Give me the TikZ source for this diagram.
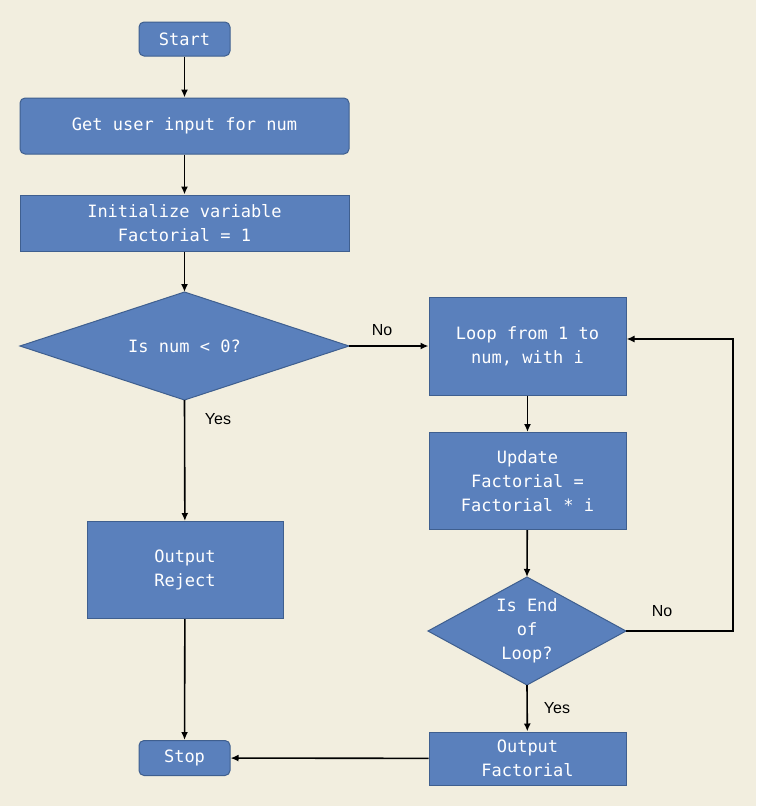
\documentclass[tikz,border=0pt]{standalone}
\usepackage{fontspec}
\setmainfont{Liberation Sans}
\newfontfamily\monof{DejaVu Sans Mono}
\usetikzlibrary{shapes.geometric,arrows.meta}
\definecolor{bg}{HTML}{F2EEDF}
\definecolor{boxf}{HTML}{5A80BC}
\definecolor{boxd}{HTML}{3F5F8F}
\begin{document}
\begin{tikzpicture}[x=1pt,y=-1pt,
  base/.style={draw=boxd,line width=1pt,fill=boxf,text=white,font=\monof\fontsize{17}{24}\selectfont,align=center,inner sep=0pt},
  box/.style={base,rectangle},
  rbox/.style={base,rectangle,rounded corners=5pt},
  dia/.style={base,diamond,aspect=3},
  arr/.style={-{Latex[length=8pt,width=7pt]},line width=1.6pt},
  lab/.style={font=\fontsize{16}{18}\selectfont}]
\fill[bg] (0,0) rectangle (756,806);
\useasboundingbox (0,0) rectangle (756,806);
\node[rbox,minimum width=91pt,minimum height=34pt] (start) at (184.5,39) {Start};
\node[rbox,minimum width=329pt,minimum height=56pt] (input) at (184.5,126) {Get user input for num};
\node[box,minimum width=329pt,minimum height=56pt] (init) at (184.5,223) {Initialize variable\\Factorial = 1};
\draw[base] (20,346) -- (184.5,292) -- (349,346) -- (184.5,400) -- cycle;
\node[text=white,font=\monof\fontsize{17}{24}\selectfont] (d1) at (184.5,346) {Is num < 0?};
\coordinate (d1t) at (184.5,292); \coordinate (d1r) at (349,346); \coordinate (d1b) at (184.5,400);
\node[box,minimum width=196pt,minimum height=97pt] (rej) at (185,570) {Output\\Reject};
\node[rbox,minimum width=91pt,minimum height=35pt] (stop) at (184.5,758) {Stop};
\node[box,minimum width=197pt,minimum height=98pt] (loop) at (527.5,346) {Loop from 1 to\\num, with i};
\node[box,minimum width=197pt,minimum height=97pt] (upd) at (527.5,481) {Update\\Factorial =\\Factorial * i};
\draw[base] (428,631) -- (527,577) -- (626,631) -- (527,685) -- cycle;
\node[text=white,font=\monof\fontsize{17}{24}\selectfont,align=center] (d2) at (527,631) {Is End\\of\\Loop?};
\coordinate (d2t) at (527,577); \coordinate (d2r) at (626,631); \coordinate (d2b) at (527,685);
\node[box,minimum width=197pt,minimum height=53pt] (outf) at (527.5,758.5) {Output\\Factorial};
\coordinate (corner1) at (733,631); \coordinate (corner2) at (733,339);
\draw[arr] (start) -- (input);
\draw[arr] (input) -- (init);
\draw[arr] (init) -- (d1t);
\draw[arr] (d1r) -- (loop.west);
\draw[arr] (d1b) -- (rej);
\draw[arr] (rej) -- (stop);
\draw[arr] (loop) -- (upd);
\draw[arr] (upd) -- (d2t);
\draw[arr] (d2b) -- (outf);
\draw[arr] (outf) -- (stop);
\draw[arr] (d2r) -- (corner1) -- (corner2) -- (loop.east |- corner2);
\node[lab] (no1) at (382,330) {No};
\node[lab] (yes1) at (218,419) {Yes};
\node[lab] (no2) at (662,611) {No};
\node[lab] (yes2) at (557,708) {Yes};
\end{tikzpicture}
\end{document}
